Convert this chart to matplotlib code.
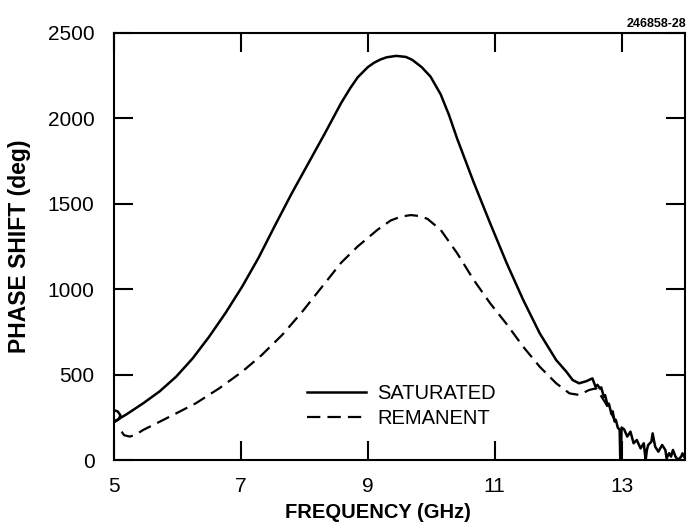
import numpy as np
import matplotlib
matplotlib.use("Agg")
import matplotlib.pyplot as plt

plt.rcParams['font.family'] = ['Liberation Sans', 'DejaVu Sans']
plt.rcParams['xtick.direction'] = 'in'
plt.rcParams['ytick.direction'] = 'in'
plt.rcParams['xtick.top'] = True
plt.rcParams['ytick.right'] = True
plt.rcParams['xtick.major.size'] = 14
plt.rcParams['ytick.major.size'] = 14
plt.rcParams['xtick.major.width'] = 1.5
plt.rcParams['ytick.major.width'] = 1.5

# saturated curve (GHz, deg)
sat_freq = [5.0, 5.06, 5.10, 5.08, 5.03, 5.0, 5.2, 5.46, 5.72, 5.98, 6.24, 6.5, 6.76,
            7.02, 7.28, 7.54, 7.80, 8.06, 8.32, 8.58, 8.72, 8.84, 9.0, 9.10, 9.2, 9.3,
            9.45, 9.6, 9.7, 9.85, 9.99, 10.15, 10.28, 10.41, 10.67, 10.93, 11.19, 11.45,
            11.71, 11.97, 12.13, 12.23, 12.33, 12.45, 12.54, 12.59, 12.62, 12.66, 12.68,
            12.72, 12.74, 12.78, 12.80, 12.84, 12.86, 12.89, 12.91, 12.94, 12.97, 12.98,
            12.99, 13.0, 13.04, 13.09, 13.14, 13.19, 13.24, 13.30, 13.35, 13.38, 13.40,
            13.42, 13.47, 13.49, 13.53, 13.58, 13.64, 13.69, 13.71, 13.75, 13.78, 13.81,
            13.85, 13.89, 13.94, 13.96, 14.0]
sat_phase = [292, 284, 262, 240, 228, 224, 268, 332, 402, 488, 595, 722, 862,
             1015, 1185, 1375, 1560, 1735, 1910, 2090, 2175, 2240, 2300, 2326, 2345, 2358,
             2366, 2360, 2343, 2300, 2244, 2140, 2020, 1880, 1625, 1385, 1152, 937,
             742, 585, 517, 468, 449, 462, 478, 429, 440, 418, 425,
             370, 380, 320, 330, 270, 285, 225, 235, 190, 176, 0,
             0, 190, 180, 137, 166, 98, 117, 68, 98, 0, 60,
             88, 107, 156, 78, 49, 88, 59, 10, 40, 20, 59,
             20, 0, 20, 39, 10]

# remanent curve
rem_freq = [5.12, 5.16, 5.25, 5.35, 5.46, 5.72, 5.98, 6.29, 6.66, 7.02, 7.33, 7.65,
            7.96, 8.27, 8.58, 8.84, 9.0, 9.16, 9.36, 9.52, 9.68, 9.82, 9.94, 10.15,
            10.41, 10.67, 10.93, 11.19, 11.45, 11.71, 11.97, 12.18, 12.33, 12.49, 12.6,
            12.75, 12.9]
rem_phase = [166, 145, 137, 150, 176, 224, 273, 332, 420, 517, 615, 732,
             865, 1010, 1155, 1250, 1300, 1350, 1402, 1425, 1434, 1428, 1412, 1347,
             1210, 1054, 917, 795, 663, 546, 449, 390, 381, 410, 420,
             332, 230]

x_ticks = [5, 7, 9, 11, 13]
y_ticks = [0, 500, 1000, 1500, 2000, 2500]

fig = plt.figure(figsize=(6.88, 5.26), dpi=100)
ax = fig.add_axes([114 / 688, 1 - 460 / 526, 571 / 688, 427 / 526])

ax.plot(sat_freq, sat_phase, color='black', lw=1.8, label='SATURATED')
ax.plot(rem_freq, rem_phase, color='black', lw=1.6, dashes=(6, 3.2), label='REMANENT')

ax.set_xlim(5, 14)
ax.set_ylim(0, 2500)
ax.set_xticks(x_ticks)
ax.set_yticks(y_ticks)
ax.tick_params(axis='both', which='major', direction='in', length=14, width=1.5,
               top=True, right=True, labelsize=15, color='black', labelcolor='black')
ax.tick_params(axis='x', pad=12)
ax.tick_params(axis='y', pad=14)
for s in ax.spines.values():
    s.set_linewidth(1.5)

ax.set_xlabel('FREQUENCY (GHz)', fontsize=14.5, fontweight='bold')
ax.xaxis.set_label_coords(0.462, -0.10)
ax.set_ylabel('PHASE SHIFT (deg)', fontsize=16.5, fontweight='bold')
ax.yaxis.set_label_coords(-0.146, 0.50)

ax.legend(loc='upper left', bbox_to_anchor=(0.338, 0.178), frameon=False,
          fontsize=14.5, handlelength=2.95, handletextpad=0.55, labelspacing=0.3,
          borderpad=0, borderaxespad=0)

fig.text(0.998, 0.954, '246858-28', ha='right', va='center', fontsize=9,
         fontweight='bold')

fig.savefig('out.png', dpi=100)
